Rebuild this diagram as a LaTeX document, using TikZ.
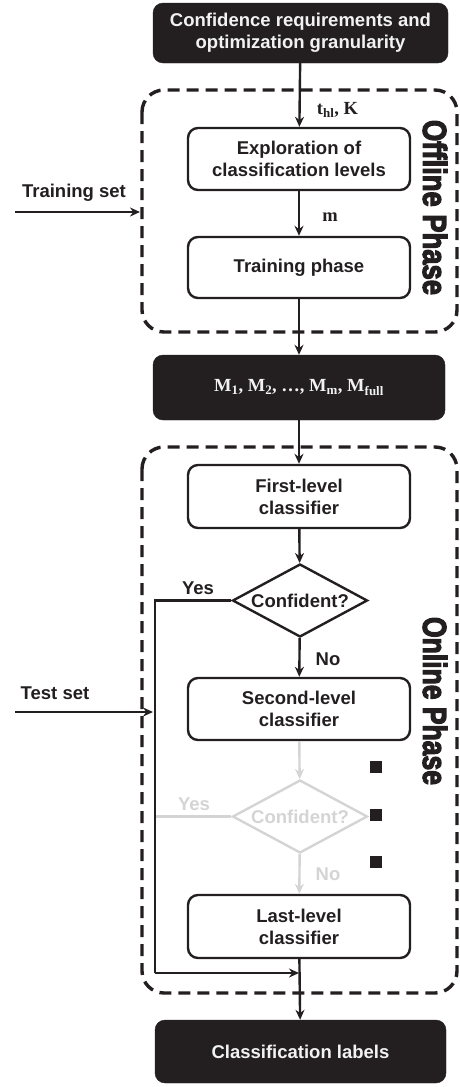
\documentclass[tikz,border=0pt]{standalone}
\usepackage{amsmath}
\usepackage[no-math]{fontspec}
\setmainfont{Liberation Sans}
\newfontfamily\heavyfont[FakeBold=4]{Liberation Sans Bold}
\newfontfamily\serifb{Liberation Serif Bold}
\usetikzlibrary{shapes.geometric,arrows.meta}
\definecolor{ink}{HTML}{231F20}
\definecolor{faint}{HTML}{D4D4D4}
\definecolor{paper}{HTML}{F2F2F2}
\newcommand{\sub}[1]{\textsubscript{#1}}
\begin{document}
\begin{tikzpicture}[x=1pt,y=-1pt,
  every node/.style={font=\bfseries\fontsize{18.5}{22}\selectfont, text=ink, align=center},
  darkbox/.style={rectangle, rounded corners=10pt, fill=ink, draw=ink, text=paper, inner sep=0pt},
  whitebox/.style={rectangle, rounded corners=10pt, draw=ink, line width=2.4pt, minimum width=222pt, inner sep=0pt},
  decision/.style={diamond, draw=ink, line width=2.4pt, aspect=1.85, minimum width=135pt, minimum height=73pt, inner sep=0pt},
  flow/.style={draw=ink, line width=2.4pt, -{Stealth[length=10pt,width=9pt]}},
  plain/.style={draw=ink, line width=2.4pt},
  phase/.style={draw=ink, line width=3.4pt, dash pattern=on 12pt off 7pt, rounded corners=22pt},
  sidelabel/.style={font=\bfseries\fontsize{18.5}{22}\selectfont},
  mathlabel/.style={font=\serifb\fontsize{18.5}{22}\selectfont},
  dot/.style={rectangle, fill=ink, minimum size=12pt, inner sep=0pt},
  vtitle/.style={rotate=-90, inner sep=0pt}
]
\useasboundingbox (0,0) rectangle (459,1087);

% phase frames
\draw[phase] (142,90) rectangle (457,332);
\draw[phase] (142,447) rectangle (457,993);

% nodes
\node[darkbox, minimum width=295pt, minimum height=60pt] (top) at (300.5,33) {Confidence requirements and\\optimization granularity};
\node[whitebox, minimum height=62pt] (expl) at (299,159) {Exploration of\\classification levels};
\node[whitebox, minimum height=61pt] (train) at (299,267.5) {Training phase};
\node[darkbox, minimum width=292pt, minimum height=65pt, font=\serifb\fontsize{18.5}{22}\selectfont] (models) at (299,387.5) {M\sub{1}, M\sub{2}, \ldots, M\sub{m}, M\sub{full}};
\node[whitebox, minimum height=63pt] (first) at (299,496.5) {First-level\\classifier};
\node[decision] (d1) at (300,600.5) {Confident?};
\node[whitebox, minimum height=62pt] (second) at (299,709) {Second-level\\classifier};
\node[decision, draw=faint, text=faint] (d2) at (300,816.5) {Confident?};
\node[whitebox, minimum height=63pt] (last) at (299,926.5) {Last-level\\classifier};
\node[darkbox, minimum width=291pt, minimum height=63pt] (cls) at (300.5,1051.5) {Classification labels};

% phase titles
\node[vtitle] (offt) at (435,207.5) {\resizebox{175pt}{24pt}{\heavyfont Offline Phase}};
\node[vtitle] (ont) at (435,701) {\resizebox{168pt}{24pt}{\heavyfont Online Phase}};

% dots
\node[dot] (s1) at (376,767) {};
\node[dot] (s2) at (376,815) {};
\node[dot] (s3) at (376,862) {};

% side inputs
\coordinate (trs) at (15,212);
\coordinate (tre) at (140,212);
\coordinate (tss) at (15,712);
\coordinate (tse) at (153,712);
\draw[flow] (trs) -- (tre);
\draw[flow] (tss) -- (tse);
\node[sidelabel] (trl) at (74,193) {Training set};
\node[sidelabel] (tsl) at (55,693) {Test set};

% main flow
\draw[flow] (top) -- (expl);
\node[mathlabel] (thl) at (337.5,110) {t\sub{hl}, K};
\draw[flow] (expl) -- (train);
\node[mathlabel] (mlab) at (330,217) {m};
\draw[flow] (train) -- (models);
\draw[flow] (models) -- (first);
\draw[flow] (first) -- (d1);
\draw[flow] (d1) -- (second);
\node (no1) at (328,659) {No};
\node (yes1) at (198,588) {Yes};
\draw[flow, draw=faint] (second) -- (d2);
\draw[flow, draw=faint] (d2) -- (last);
\node[text=faint] (no2) at (328,874) {No};
\node[text=faint] (yes2) at (194,804) {Yes};

\coordinate (ytop) at (155,600.5);
\coordinate (ybot) at (155,973);
\coordinate (join) at (299,973);
\coordinate (y2end) at (156,816.5);
\draw[plain, draw=faint] (d2.west) -- (y2end);
\draw[plain] (d1.west) -- (ytop) -- (ybot);
\draw[flow] (ybot) -- (join);
\draw[flow] (last) -- (cls);
\end{tikzpicture}
\end{document}
